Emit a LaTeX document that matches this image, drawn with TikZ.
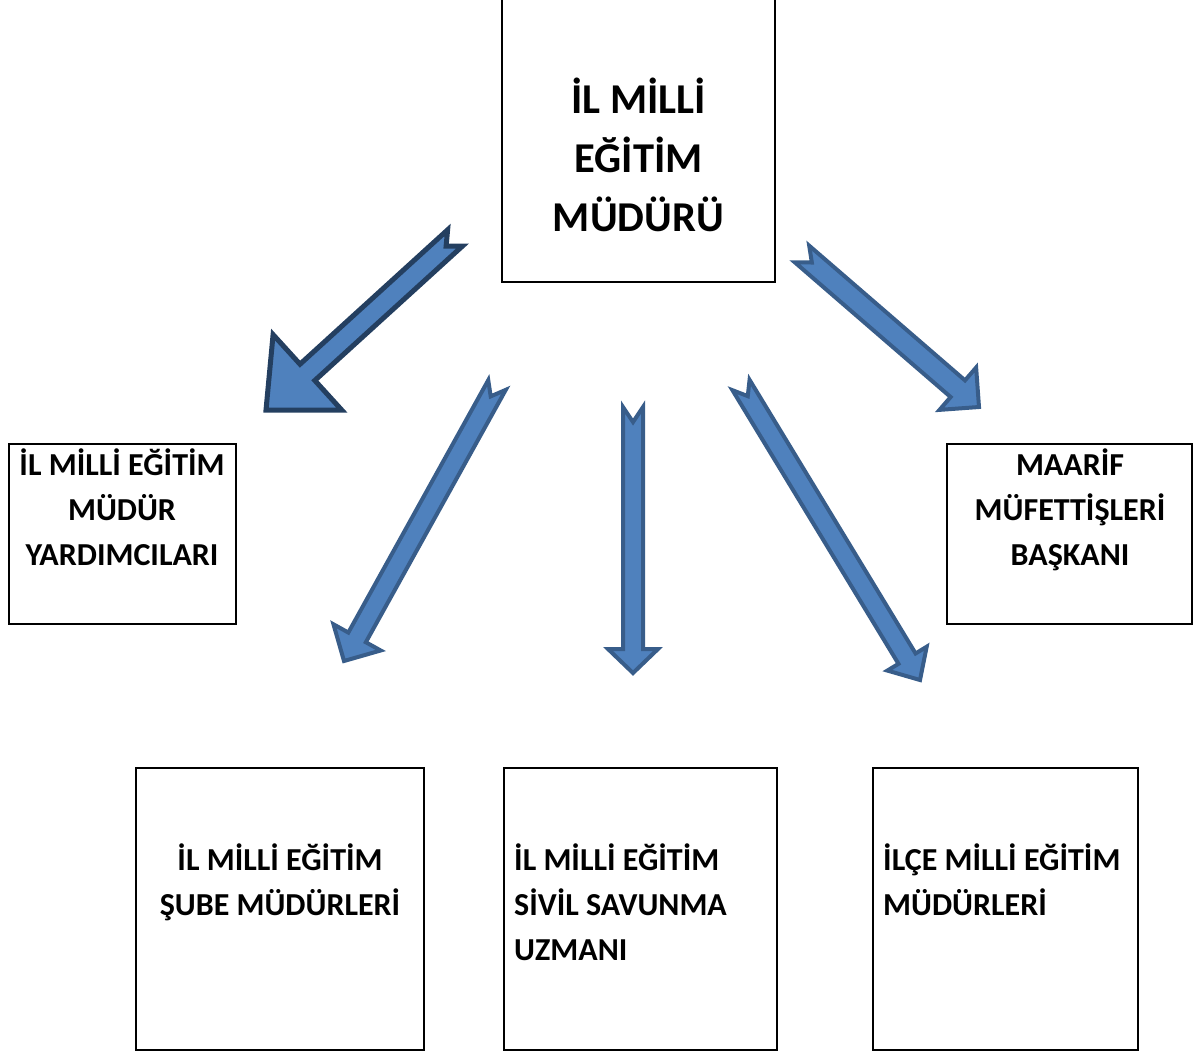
\documentclass[tikz,border=0pt]{standalone}
\usepackage{fontspec}
\setmainfont{Carlito}
\usetikzlibrary{calc}

\definecolor{arrowfill}{HTML}{4F81BD}
\definecolor{arrowline}{HTML}{385D8A}
\definecolor{arrowdark}{HTML}{243F60}

\tikzset{
  orgbox/.style={draw=black, line width=2pt, inner sep=0pt},
  smalltext/.style={font=\fontsize{32}{45}\selectfont\bfseries, inner sep=0pt, anchor=base},
  bigtext/.style={font=\fontsize{42.5}{59}\selectfont\bfseries, inner sep=0pt, anchor=base, align=center},
  blockarrow/.style={fill=arrowfill, draw=arrowline, line width=4pt, line join=miter}
}

% notched block arrow: [style] {tail}{tip}{shaft}{head width}{head length}{notch}
\newcommand{\notcharrow}[7][]{%
  \coordinate (hb) at ($(#3)!#6pt!(#2)$);
  \draw[blockarrow, #1] ($(#2)!#4pt!90:(#3)$) -- ($(hb)!#4pt!-90:(#2)$)
    -- ($(hb)!#5pt!-90:(#2)$) -- (#3) -- ($(hb)!#5pt!90:(#2)$)
    -- ($(hb)!#4pt!90:(#2)$) -- ($(#2)!#4pt!-90:(#3)$)
    -- ($(#2)!#7pt!(#3)$) -- cycle;
}

\begin{document}
\begin{tikzpicture}[x=1pt, y=-1pt]
  \useasboundingbox (0,0) rectangle (1193,1053);

  % boxes
  \node[orgbox, minimum width=273pt, minimum height=322pt] (mudur) at (638.5,121) {};
  \node[orgbox, minimum width=227pt, minimum height=180pt] (yard) at (122.5,534) {};
  \node[orgbox, minimum width=245pt, minimum height=180pt] (maarif) at (1069.5,534) {};
  \node[orgbox, minimum width=288pt, minimum height=282pt] (sube) at (280,909) {};
  \node[orgbox, minimum width=273pt, minimum height=282pt] (sivil) at (640.5,909) {};
  \node[orgbox, minimum width=265pt, minimum height=282pt] (ilce) at (1005.5,909) {};

  % texts (base = last line)
  \node[bigtext] (mudurtxt) at (638.5,231) {İL MİLLİ\\EĞİTİM\\MÜDÜRÜ};
  \node[smalltext, align=center] (yardtxt) at (122,565) {İL MİLLİ EĞİTİM\\MÜDÜR\\YARDIMCILARI};
  \node[smalltext, align=center] (maariftxt) at (1070,565) {MAARİF\\MÜFETTİŞLERİ\\BAŞKANI};
  \node[smalltext, align=center] (subetxt) at (280,915) {İL MİLLİ EĞİTİM\\ŞUBE MÜDÜRLERİ};
  \node[smalltext, align=left, anchor=base west] (siviltxt) at (514,960) {İL MİLLİ EĞİTİM\\SİVİL SAVUNMA\\UZMANI};
  \node[smalltext, align=left, anchor=base west] (ilcetxt) at (883,915) {İLÇE MİLLİ EĞİTİM\\MÜDÜRLERİ};

  % arrows
  \coordinate (a1s) at (455,238);  \coordinate (a1e) at (266,410);
  \coordinate (a2s) at (497,385);  \coordinate (a2e) at (344,661);
  \coordinate (a3s) at (633,407);  \coordinate (a3e) at (633,673);
  \coordinate (a4s) at (741,385);  \coordinate (a4e) at (920,680);
  \coordinate (a5s) at (802,254);  \coordinate (a5e) at (979,407);

  \notcharrow[draw=arrowdark, line width=5pt]{a1s}{a1e}{11}{51}{56}{12}
  \notcharrow{a2s}{a2e}{10}{27}{27}{13}
  \notcharrow{a3s}{a3e}{10}{25}{24}{15}
  \notcharrow{a4s}{a4e}{10}{23}{25}{13}
  \notcharrow{a5s}{a5e}{11}{28}{28}{13}
\end{tikzpicture}
\end{document}
